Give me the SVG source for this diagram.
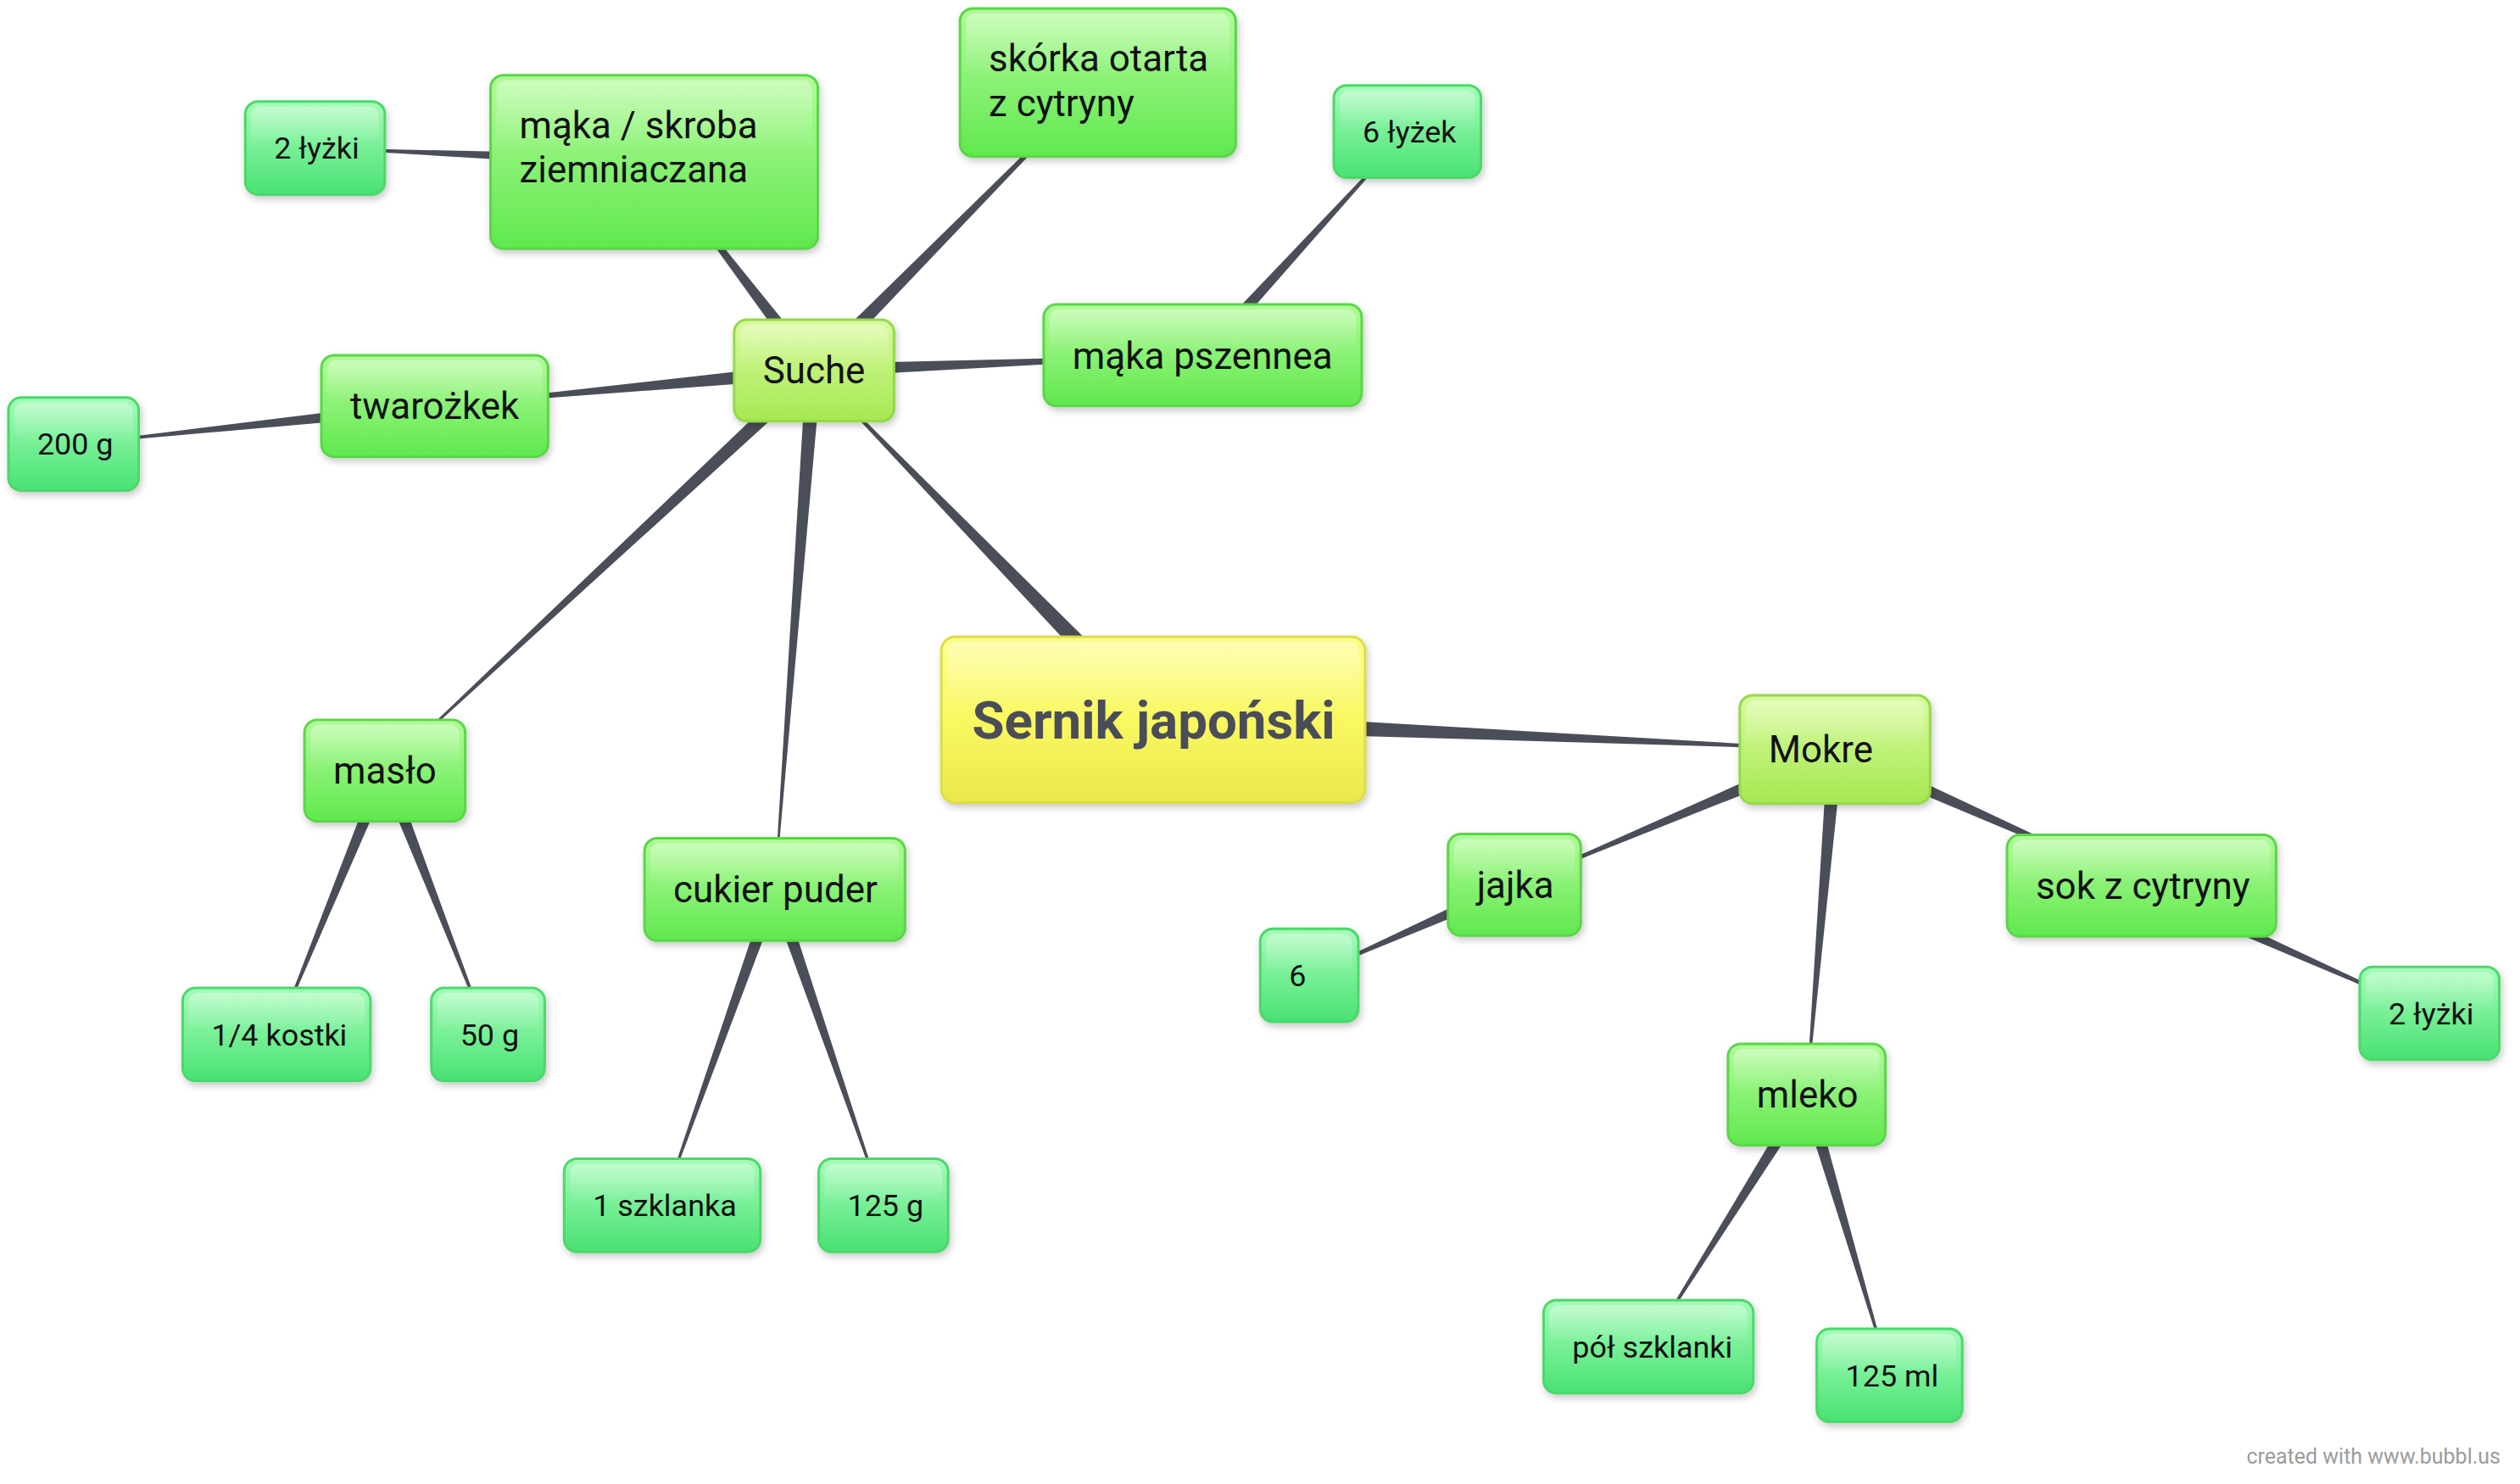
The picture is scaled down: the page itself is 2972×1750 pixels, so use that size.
<svg xmlns="http://www.w3.org/2000/svg" width="2972" height="1750" viewBox="0 0 2972 1750">
<style>
.t{font-family:Roboto,"Liberation Sans",sans-serif;fill:#111}
.c{font-size:44px}
.v{font-size:36px}
.r{font-size:62px;font-weight:bold;fill:#4a4d57}
.foot{font-family:Roboto,"Liberation Sans",sans-serif;font-size:25px;fill:#9c9c9c}
.box{stroke-width:3;filter:url(#sh)}
.root{fill:url(#gRoot);stroke:#dcdc4a}
.l1{fill:url(#gL1);stroke:#94d94a}
.cat{fill:url(#gCat);stroke:#5ad646}
.val{fill:url(#gVal);stroke:#4cd86a}
.gl{fill:url(#gGloss)}
#links polygon{fill:#4a4e58}
</style>
<defs>
<linearGradient id="gRoot" x1="0" y1="0" x2="0" y2="1"><stop offset="0" stop-color="#fdfd8e"/><stop offset="0.5" stop-color="#f9f862"/><stop offset="1" stop-color="#ebe74a"/></linearGradient>
<linearGradient id="gL1" x1="0" y1="0" x2="0" y2="1"><stop offset="0" stop-color="#d8fb9e"/><stop offset="1" stop-color="#a6e852"/></linearGradient>
<linearGradient id="gCat" x1="0" y1="0" x2="0" y2="1"><stop offset="0" stop-color="#b2fb9a"/><stop offset="1" stop-color="#60e84e"/></linearGradient>
<linearGradient id="gVal" x1="0" y1="0" x2="0" y2="1"><stop offset="0" stop-color="#a6fcba"/><stop offset="1" stop-color="#48e272"/></linearGradient>
<linearGradient id="gGloss" x1="0" y1="0" x2="0" y2="1"><stop offset="0" stop-color="#ffffff" stop-opacity="0.35"/><stop offset="1" stop-color="#ffffff" stop-opacity="0"/></linearGradient>
<filter id="sh" x="-10%" y="-10%" width="120%" height="130%"><feDropShadow dx="2" dy="4" stdDeviation="4" flood-color="#000" flood-opacity="0.22"/></filter>
</defs>
<rect width="2972" height="1750" fill="#ffffff"/>
<g id="diagram" transform="scale(0.9975)">
<g id="links">
<polygon points="1371.6,842.6 962.4,437.7 961.6,438.3 1354.4,859.4"/>
<polygon points="1363.5,839 2170,885.5 2170,886.5 1362.5,863"/>
<polygon points="969.2,432.5 773.9,191.2 773.1,191.8 954.9,443.5"/>
<polygon points="968.4,444.3 1298.4,97.9 1297.6,97.1 955.6,431.7"/>
<polygon points="962.4,446 1422,420.5 1422,419.5 961.6,430"/>
<polygon points="961.2,429 514,479.5 514,480.5 962.8,447"/>
<polygon points="955.9,431.4 454.7,910.6 455.3,911.4 968.1,444.6"/>
<polygon points="953,437.3 915.5,1051.5 916.5,1051.5 971,438.7"/>
<polygon points="773.8,183.5 372.5,174.5 372.5,175.5 773.2,199.5"/>
<polygon points="513.2,472 87,524.5 87,525.5 514.8,488"/>
<polygon points="1427.9,425.4 1664.4,155.8 1663.6,155.2 1416.1,414.6"/>
<polygon points="447.6,908 326.5,1222.8 327.5,1223.2 462.4,914"/>
<polygon points="447.6,913.9 576.5,1223.2 577.5,1222.8 462.5,908.1"/>
<polygon points="908.5,1048.8 782.5,1424.8 783.5,1425.2 923.5,1054.2"/>
<polygon points="908.4,1054.1 1044,1425.2 1045,1424.8 923.6,1048.9"/>
<polygon points="2166.5,877.7 1790.3,1045.5 1790.7,1046.5 2173.5,894.3"/>
<polygon points="2166.3,894.2 2531.8,1047.5 2532.2,1046.5 2173.7,877.8"/>
<polygon points="2161,885.3 2135.5,1294 2136.5,1294 2179,886.7"/>
<polygon points="1787.3,1038.7 1547.8,1152.5 1548.2,1153.5 1793.7,1053.3"/>
<polygon points="2528.8,1054.3 2872.3,1198.5 2872.7,1197.5 2535.2,1039.7"/>
<polygon points="2129.2,1289.8 1948.6,1591.7 1949.4,1592.3 2142.8,1298.3"/>
<polygon points="2128.3,1296.3 2233.5,1626.1 2234.5,1625.9 2143.7,1291.7"/>
</g>
<g id="n-root"><rect class="box root" x="1113" y="753" width="501" height="196" rx="16"/><rect class="gl" x="1120" y="759" width="487" height="80" rx="12"/><text class="t r" x="1364" y="873" text-anchor="middle">Sernik japoński</text></g>
<g id="n-suche"><rect class="box l1" x="868" y="378" width="189" height="120" rx="15"/><rect class="gl" x="875" y="384" width="175" height="50" rx="11"/><text class="t c" x="902" y="453.6">Suche</text></g>
<g id="n-mokre"><rect class="box l1" x="2057" y="822" width="225" height="128" rx="15"/><rect class="gl" x="2064" y="828" width="211" height="54" rx="11"/><text class="t c" x="2091" y="901.6">Mokre</text></g>
<g id="n-maka-skroba"><rect class="box cat" x="580" y="89" width="387" height="205" rx="15"/><rect class="gl" x="587" y="95" width="373" height="86" rx="11"/><text class="t c" x="614" y="163">mąka / skroba</text><text class="t c" x="614" y="216">ziemniaczana</text></g>
<g id="n-2lyzki-l"><rect class="box val" x="290" y="120" width="165" height="110" rx="15"/><rect class="gl" x="297" y="126" width="151" height="46" rx="11"/><text class="t v" x="324" y="187.8">2 łyżki</text></g>
<g id="n-skorka"><rect class="box cat" x="1135" y="10" width="326" height="175" rx="15"/><rect class="gl" x="1142" y="16" width="312" height="74" rx="11"/><text class="t c" x="1169" y="84">skórka otarta</text><text class="t c" x="1169" y="137">z cytryny</text></g>
<g id="n-6lyzek"><rect class="box val" x="1577" y="101" width="174" height="109" rx="15"/><rect class="gl" x="1584" y="107" width="160" height="46" rx="11"/><text class="t v" x="1611" y="168.3">6 łyżek</text></g>
<g id="n-maka-pszennea"><rect class="box cat" x="1234" y="360" width="376" height="120" rx="15"/><rect class="gl" x="1241" y="366" width="362" height="50" rx="11"/><text class="t c" x="1268" y="435.6">mąka pszennea</text></g>
<g id="n-twarozkek"><rect class="box cat" x="380" y="420" width="268" height="120" rx="15"/><rect class="gl" x="387" y="426" width="254" height="50" rx="11"/><text class="t c" x="414" y="495.6">twarożkek</text></g>
<g id="n-200g"><rect class="box val" x="10" y="470" width="154" height="110" rx="15"/><rect class="gl" x="17" y="476" width="140" height="46" rx="11"/><text class="t v" x="44" y="537.8">200 g</text></g>
<g id="n-maslo"><rect class="box cat" x="360" y="851" width="190" height="120" rx="15"/><rect class="gl" x="367" y="857" width="176" height="50" rx="11"/><text class="t c" x="394" y="926.6">masło</text></g>
<g id="n-14kostki"><rect class="box val" x="216" y="1168" width="222" height="110" rx="15"/><rect class="gl" x="223" y="1174" width="208" height="46" rx="11"/><text class="t v" x="250" y="1235.8">1/4 kostki</text></g>
<g id="n-50g"><rect class="box val" x="510" y="1168" width="134" height="110" rx="15"/><rect class="gl" x="517" y="1174" width="120" height="46" rx="11"/><text class="t v" x="544" y="1235.8">50 g</text></g>
<g id="n-cukier"><rect class="box cat" x="762" y="991" width="308" height="121" rx="15"/><rect class="gl" x="769" y="997" width="294" height="50" rx="11"/><text class="t c" x="796" y="1067.1">cukier puder</text></g>
<g id="n-1szklanka"><rect class="box val" x="667" y="1370" width="232" height="110" rx="15"/><rect class="gl" x="674" y="1376" width="218" height="46" rx="11"/><text class="t v" x="701" y="1437.8">1 szklanka</text></g>
<g id="n-125g"><rect class="box val" x="968" y="1370" width="153" height="110" rx="15"/><rect class="gl" x="975" y="1376" width="139" height="46" rx="11"/><text class="t v" x="1002" y="1437.8">125 g</text></g>
<g id="n-jajka"><rect class="box cat" x="1712" y="986" width="157" height="120" rx="15"/><rect class="gl" x="1719" y="992" width="143" height="50" rx="11"/><text class="t c" x="1746" y="1061.6">jajka</text></g>
<g id="n-6"><rect class="box val" x="1490" y="1098" width="116" height="110" rx="15"/><rect class="gl" x="1497" y="1104" width="102" height="46" rx="11"/><text class="t v" x="1524" y="1165.8">6</text></g>
<g id="n-sok"><rect class="box cat" x="2373" y="987" width="318" height="120" rx="15"/><rect class="gl" x="2380" y="993" width="304" height="50" rx="11"/><text class="t c" x="2407" y="1062.6">sok z cytryny</text></g>
<g id="n-2lyzki-r"><rect class="box val" x="2790" y="1143" width="165" height="110" rx="15"/><rect class="gl" x="2797" y="1149" width="151" height="46" rx="11"/><text class="t v" x="2824" y="1210.8">2 łyżki</text></g>
<g id="n-mleko"><rect class="box cat" x="2043" y="1234" width="186" height="120" rx="15"/><rect class="gl" x="2050" y="1240" width="172" height="50" rx="11"/><text class="t c" x="2077" y="1309.6">mleko</text></g>
<g id="n-pol-szklanki"><rect class="box val" x="1825" y="1537" width="248" height="110" rx="15"/><rect class="gl" x="1832" y="1543" width="234" height="46" rx="11"/><text class="t v" x="1859" y="1604.8">pół szklanki</text></g>
<g id="n-125ml"><rect class="box val" x="2148" y="1571" width="172" height="110" rx="15"/><rect class="gl" x="2155" y="1577" width="158" height="46" rx="11"/><text class="t v" x="2182" y="1638.8">125 ml</text></g>
</g>
<text class="foot" x="2949" y="1726" text-anchor="end">created with www.bubbl.us</text>
</svg>
